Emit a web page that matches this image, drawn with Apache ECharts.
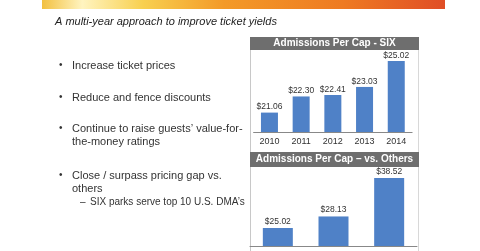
<!DOCTYPE html>
<html>
  <head>
    <meta charset="utf-8" />
    <script src="https://cdn.jsdelivr.net/npm/echarts@6.0.0/dist/echarts.min.js"></script>
    <style>
      html, body { margin: 0; padding: 0; background: #fff; }
    </style>
  </head>
  <body>
    <div id="main" style="width: 480px; height: 251px"></div>

    <script type="text/javascript">
      // data
      var sixYears = ["2010", "2011", "2012", "2013", "2014"];
      var sixValues = [21.06, 22.30, 22.41, 23.03, 25.02];
      var otherCats = ["SIX", "Peer A", "Peer B"];
      var otherValues = [25.02, 28.13, 38.52];

      var slideTitle = "A multi-year approach to improve ticket yields";
      var header1 = "Admissions Per Cap - SIX";
      var header2 = "Admissions Per Cap \u2013 vs. Others";
      var bullets = [
        { y: 65, text: "Increase ticket prices" },
        { y: 97, text: "Reduce and fence discounts" },
        { y: 128, text: "Continue to raise guests\u2019 value-for-\nthe-money ratings" },
        { y: 175, text: "Close / surpass pricing gap vs.\nothers" }
      ];
      var subBullet = "SIX parks serve top 10 U.S. DMA\u2019s";

      var myChart = echarts.init(document.getElementById("main"));

      var font = "Liberation Sans, Arial, sans-serif";
      var barColor = "#4f81c7";

      var graphics = [
        // orange banner
        {
          type: "rect",
          shape: { x: 42, y: 0, width: 403, height: 9 },
          style: {
            fill: new echarts.graphic.LinearGradient(0, 0, 1, 0, [
              { offset: 0, color: "#f2c040" },
              { offset: 0.1, color: "#fff4c0" },
              { offset: 0.25, color: "#f8d050" },
              { offset: 0.45, color: "#f39a28" },
              { offset: 0.75, color: "#ee7a22" },
              { offset: 1, color: "#e04e26" }
            ])
          }
        },
        {
          type: "text",
          left: 55,
          top: 16,
          style: { text: slideTitle, font: "italic 11px " + font, fill: "#222" }
        },
        // panel frame
        { type: "line", shape: { x1: 250.5, y1: 37, x2: 250.5, y2: 251 }, style: { stroke: "#c8c8c8", lineWidth: 1 } },
        { type: "line", shape: { x1: 418.5, y1: 37, x2: 418.5, y2: 251 }, style: { stroke: "#d8d8d8", lineWidth: 1 } },
        { type: "rect", shape: { x: 250, y: 37, width: 169, height: 13 }, style: { fill: "#6e6e6e" } },
        { type: "rect", shape: { x: 250, y: 152, width: 169, height: 15 }, style: { fill: "#6e6e6e" } },
        {
          type: "text", x: 334.5, y: 43.5,
          style: { text: header1, font: "bold 10px " + font, fill: "#fff", align: "center", verticalAlign: "middle" }
        },
        {
          type: "text", x: 334.5, y: 159.5,
          style: { text: header2, font: "bold 10px " + font, fill: "#fff", align: "center", verticalAlign: "middle" }
        }
      ];

      bullets.forEach(function (b) {
        graphics.push({
          type: "text", x: 59, y: b.y,
          style: { text: "\u2022", font: "10px " + font, fill: "#333", verticalAlign: "middle" }
        });
        graphics.push({
          type: "text", x: 72, y: b.y - 6,
          style: { text: b.text, font: "11px " + font, fill: "#333", lineHeight: 13 }
        });
      });
      graphics.push({
        type: "text", x: 80, y: 202,
        style: { text: "\u2013", font: "10px " + font, fill: "#333", verticalAlign: "middle" }
      });
      graphics.push({
        type: "text", x: 90, y: 202,
        style: { text: subBullet, font: "10px " + font, fill: "#333", verticalAlign: "middle" }
      });

      var labelFmt = function (p) { return "$" + p.value.toFixed(2); };

      var option = {
        animation: false,
        graphic: graphics,
        grid: [
          { left: 253.6, width: 158.5, top: 54, height: 78 },
          { left: 250, width: 167, top: 168, height: 78 }
        ],
        xAxis: [
          {
            gridIndex: 0, type: "category", data: sixYears,
            axisLine: { lineStyle: { color: "#888" } },
            axisTick: { show: false },
            axisLabel: { color: "#333", fontSize: 9, fontFamily: font, margin: 5 }
          },
          {
            gridIndex: 1, type: "category", data: otherCats,
            axisLine: { lineStyle: { color: "#888" } },
            axisTick: { show: false },
            axisLabel: { show: false }
          }
        ],
        yAxis: [
          { gridIndex: 0, type: "value", min: 19.57, max: 25.56, show: false, splitLine: { show: false } },
          { gridIndex: 1, type: "value", min: 20.16, max: 41.2, show: false, splitLine: { show: false } }
        ],
        series: [
          {
            type: "bar", xAxisIndex: 0, yAxisIndex: 0, data: sixValues,
            barWidth: 17, itemStyle: { color: barColor },
            label: {
              show: true, position: "top", distance: 1, color: "#333", fontSize: 8.5, fontFamily: font,
              formatter: labelFmt
            }
          },
          {
            type: "bar", xAxisIndex: 1, yAxisIndex: 1, data: otherValues,
            barWidth: 30, itemStyle: { color: barColor },
            label: {
              show: true, position: "top", distance: 2, color: "#333", fontSize: 8.5, fontFamily: font,
              formatter: labelFmt
            }
          }
        ]
      };

      myChart.setOption(option);
    </script>
  </body>
</html>
